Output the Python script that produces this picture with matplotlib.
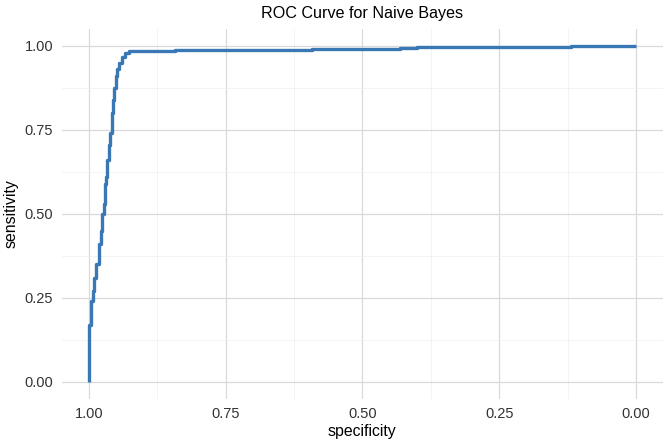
import numpy as np
import matplotlib.pyplot as plt
from matplotlib.ticker import MultipleLocator

plt.rcParams["font.family"] = ["Liberation Sans", "DejaVu Sans"]

# ROC steps: at each specificity the curve climbs to the given sensitivity
step_spec = [1.0, 1.0, 0.9969, 0.9932, 0.9903, 0.9872, 0.9823, 0.9786, 0.9757,
             0.9731, 0.9713, 0.9695, 0.9671, 0.9640, 0.9611, 0.9580, 0.9561,
             0.9543, 0.9512, 0.9483, 0.9457, 0.9402, 0.9342, 0.9269, 0.843,
             0.593, 0.431, 0.401, 0.118, 0.0]
step_sens = [0.0, 0.17, 0.24, 0.27, 0.31, 0.35, 0.41, 0.45, 0.50,
             0.53, 0.59, 0.61, 0.66, 0.705, 0.74, 0.80, 0.84,
             0.875, 0.91, 0.93, 0.95, 0.967, 0.978, 0.984, 0.987,
             0.990, 0.994, 0.997, 1.0, 1.0]

ticks = [0.0, 0.25, 0.5, 0.75, 1.0]
tick_labels = ["0.00", "0.25", "0.50", "0.75", "1.00"]

# build the staircase path
xs, ys = [step_spec[0]], [step_sens[0]]
for i in range(1, len(step_spec)):
    xs += [step_spec[i], step_spec[i]]
    ys += [step_sens[i - 1], step_sens[i]]

fig = plt.figure(figsize=(6.72, 4.47), dpi=100)
ax = fig.add_axes([0.0917, 0.108, 0.8953, 0.827])

ax.plot(xs, ys, color="#3a77b5", linewidth=2.4, solid_capstyle="butt", zorder=3)

ax.set_xlim(1.05, -0.05)
ax.set_ylim(-0.05, 1.05)
ax.set_xticks(ticks)
ax.set_xticklabels(tick_labels)
ax.set_yticks(ticks)
ax.set_yticklabels(tick_labels)
ax.xaxis.set_minor_locator(MultipleLocator(0.125))
ax.yaxis.set_minor_locator(MultipleLocator(0.125))

ax.grid(True, which="major", color="#d9d9d9", linewidth=0.9)
ax.grid(True, which="minor", color="#efefef", linewidth=0.5)
ax.set_axisbelow(True)
for s in ax.spines.values():
    s.set_visible(False)
ax.tick_params(which="both", length=0, labelsize=10.5, labelcolor="#333333", pad=6)

ax.set_xlabel("specificity", fontsize=11.4, labelpad=2)
ax.set_ylabel("sensitivity", fontsize=11.4, labelpad=4)
ax.set_title("ROC Curve for Naive Bayes", fontsize=11.6, pad=8)

fig.savefig("out.png", dpi=100, facecolor="white")
